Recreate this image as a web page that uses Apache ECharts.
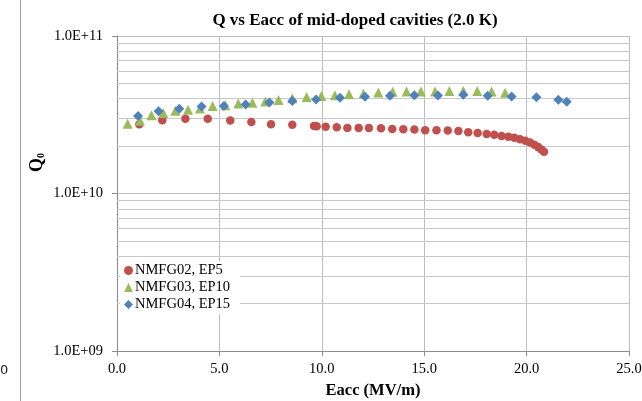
<!DOCTYPE html>
<html>
<head>
<meta charset="utf-8">
<script src="https://cdn.jsdelivr.net/npm/echarts@6/dist/echarts.min.js"></script>
<style>html,body{margin:0;padding:0;background:#fff;}#c{width:642px;height:401px;}</style>
</head>
<body>
<div id="c"></div>
<script>
// Series data (Eacc in MV/m, Q0 in units of 1e10)
var nmfg02E = [1.09,2.21,3.34,4.43,5.53,6.56,7.52,8.56,9.62,9.75,10.19,10.73,11.25,11.8,12.3,12.89,13.44,13.98,14.52,15.05,15.6,16.15,16.67,17.15,17.61,18.05,18.42,18.78,19.11,19.4,19.68,19.94,20.17,20.38,20.57,20.72,20.85];
var nmfg02Q = [2.75,2.92,2.98,2.98,2.91,2.84,2.75,2.73,2.68,2.67,2.65,2.63,2.61,2.61,2.61,2.60,2.57,2.56,2.55,2.52,2.52,2.51,2.49,2.45,2.42,2.39,2.36,2.32,2.29,2.26,2.21,2.16,2.11,2.04,1.97,1.90,1.84];
var nmfg03E = [0.52,1.12,1.68,2.26,2.85,3.47,4.05,4.67,5.29,5.92,6.61,7.24,7.89,8.56,9.26,9.98,10.64,11.33,12.03,12.76,13.46,14.14,14.84,15.53,16.23,16.91,17.59,18.29,18.95];
var nmfg03Q = [2.77,2.90,3.14,3.25,3.35,3.40,3.47,3.59,3.64,3.73,3.77,3.84,3.93,4.03,4.10,4.16,4.21,4.26,4.30,4.38,4.43,4.44,4.44,4.44,4.48,4.48,4.48,4.44,4.36];
var nmfg04E = [1.03,2.03,3.04,4.13,5.22,6.28,7.44,8.56,9.72,10.89,12.11,13.33,14.52,15.67,16.91,18.1,19.27,20.48,21.55,21.96];
var nmfg04Q = [3.10,3.33,3.45,3.57,3.60,3.67,3.78,3.86,3.95,4.05,4.12,4.17,4.21,4.19,4.24,4.17,4.13,4.09,3.94,3.82];
var seriesNames = ['NMFG02, EP5','NMFG03, EP10','NMFG04, EP15'];
var xTicks = [0,5,10,15,20,25];
var yMinorLines = [2e9,3e9,4e9,5e9,6e9,7e9,8e9,9e9,2e10,3e10,4e10,5e10,6e10,7e10,8e10,9e10];

function pairs(xs, qs){ return xs.map(function(x,i){ return [x, qs[i]*1e10]; }); }

var serif = '"Liberation Serif","Times New Roman",serif';
var chart = echarts.init(document.getElementById('c'), null, {renderer:'canvas'});
chart.setOption({
  animation:false,
  backgroundColor:'#fff',
  textStyle:{fontFamily:serif},
  title:{text:'Q vs Eacc of mid-doped cavities (2.0 K)', left:350, top:7, textAlign:'center',
    textStyle:{fontFamily:serif, fontWeight:'bold', fontSize:17, color:'#000'}},
  grid:{left:117, right:13, top:36, bottom:50, show:false, containLabel:false, outerBoundsMode:'none'},
  legend:{orient:'vertical', left:120, top:261, z:50, backgroundColor:'#fff', padding:[2,10,2,4],
    itemWidth:9, itemHeight:9, itemGap:2,
    textStyle:{fontFamily:serif, fontSize:14.5, lineHeight:14, color:'#000', padding:[0,0,0,-3]},
    data:[{name:seriesNames[0], icon:'circle'},{name:seriesNames[1], icon:'triangle'},{name:seriesNames[2], icon:'diamond'}]},
  xAxis:{type:'value', min:0, max:25, interval:5,
    name:'Eacc (MV/m)', nameLocation:'middle', nameGap:29,
    nameTextStyle:{fontFamily:serif, fontWeight:'bold', fontSize:16.5, color:'#000'},
    axisLine:{show:true, lineStyle:{color:'#8c8c8c'}},
    axisTick:{show:true, length:5, lineStyle:{color:'#8c8c8c'}},
    axisLabel:{formatter:function(v){return v.toFixed(1);}, fontFamily:serif, fontSize:14.5, color:'#000', margin:11},
    splitLine:{show:true, lineStyle:{color:'#bdbdbd'}}},
  yAxis:{type:'log', logBase:10, min:1e9, max:1e11,
    axisLine:{show:true, lineStyle:{color:'#8c8c8c'}},
    axisTick:{show:true, length:5, lineStyle:{color:'#8c8c8c'}},
    axisLabel:{formatter:function(v){var e=Math.round(Math.log10(v)); return '1.0E+' + (e < 10 ? '0' : '') + e;}, fontFamily:serif, fontSize:14.5, color:'#000', margin:14},
    splitLine:{show:true, lineStyle:{color:'#bdbdbd'}}},
  graphic:[
    {type:'line', shape:{x1:20.5, y1:0, x2:20.5, y2:401}, style:{stroke:'#9a9a9a', lineWidth:1}},
    {type:'text', left:0, top:364, style:{text:'0', fontFamily:'"DejaVu Sans",sans-serif', fontSize:13, fill:'#222'}},
    {type:'line', shape:{x1:117, y1:36.5, x2:629, y2:36.5}, style:{stroke:'#bdbdbd', lineWidth:1}},
    {type:'text', x:28, y:172, rotation:Math.PI/2,
      style:{text:'{q|Q}{s|0}', align:'left', verticalAlign:'top',
        rich:{q:{fontFamily:serif, fontWeight:'bold', fontSize:18, fill:'#000', lineHeight:18},
              s:{fontFamily:serif, fontWeight:'bold', fontSize:10, fill:'#000', lineHeight:18, verticalAlign:'bottom', padding:[8,0,0,0]}}}}
  ],
  series:[
    {name:seriesNames[0], type:'scatter', symbol:'circle', symbolSize:8.5, data:pairs(nmfg02E,nmfg02Q),
      itemStyle:{color:'#C0504D', opacity:1},
      markLine:{silent:true, symbol:'none', z:1, label:{show:false}, lineStyle:{color:'#c8c8c8', type:'solid', width:1},
        data:yMinorLines.map(function(v){return {yAxis:v};})}},
    {name:seriesNames[1], type:'scatter', symbol:'triangle', symbolSize:10, data:pairs(nmfg03E,nmfg03Q),
      itemStyle:{color:'#9BBB59', opacity:1}},
    {name:seriesNames[2], type:'scatter', symbol:'diamond', symbolSize:10, data:pairs(nmfg04E,nmfg04Q),
      itemStyle:{color:'#4F81BD', opacity:1}}
  ]
});
</script>
</body>
</html>
